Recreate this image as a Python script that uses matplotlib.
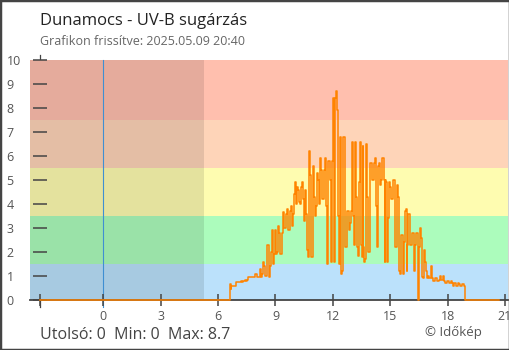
import matplotlib
matplotlib.use("Agg")
import matplotlib.pyplot as plt
from matplotlib.patches import Rectangle
import numpy as np

plt.rcParams['font.family'] = ['Open Sans', 'DejaVu Sans']

# time window in hours relative to midnight (20:40 previous day -> 20:40)
start_hour = -3.333
end_hour = 20.667
day_start = 6.6     # first non-zero reading
bin_step = 0.1      # hours per bin below
night_until = 5.26  # shaded part on the left

# UV-B readings, per 0.1 h bin: upper and lower level
uv_hi = [0.67, 0.6, 0.6, 0.74, 0.74, 0.74, 0.8, 0.8, 0.85, 0.95,
         0.95, 0.95, 0.95, 1.09, 1.09, 0.95, 1.3, 1.6, 1.4, 2.3,
         2.3, 2.0, 2.9, 2.6, 2.9, 3.1, 2.8, 2.8, 3.65, 3.6,
         3.8, 3.7, 3.9, 4.4, 4.9, 4.7, 4.6, 4.7, 4.9, 4.6,
         3.6, 6.2, 5.2, 5.6, 4.3, 5.3, 5.0, 5.9, 5.4, 5.4,
         5.9, 5.8, 5.8, 5.8, 8.4, 8.7, 7.9, 6.8, 1.4, 6.8,
         6.8, 3.7, 3.7, 3.7, 6.6, 6.6, 4.3, 4.9, 6.6, 6.4,
         2.2, 6.5, 4.3, 5.7, 5.7, 5.7, 5.9, 5.6, 5.7, 5.9,
         5.9, 5.0, 4.9, 4.9, 4.7, 5.0, 5.0, 4.8, 4.3, 2.7,
         2.7, 3.7, 3.8, 3.6, 3.6, 2.8, 2.8, 2.8, 2.8, 3.0,
         2.6, 2.1, 1.6, 1.0, 1.0, 1.4, 0.9, 0.9, 0.9, 0.85,
         1.0, 1.0, 0.8, 0.8, 0.8, 0.75, 0.8, 0.7, 0.7, 0.7,
         0.65, 0.65, 0.65]
uv_lo = [0.47, 0.6, 0.6, 0.6, 0.74, 0.74, 0.74, 0.8, 0.8, 0.85,
         0.95, 0.95, 0.95, 0.95, 0.95, 0.95, 0.95, 1.1, 1.0, 1.0,
         0.95, 1.4, 1.5, 1.9, 1.9, 2.0, 1.9, 1.9, 3.0, 3.0,
         2.9, 2.9, 3.1, 3.6, 4.0, 4.0, 4.1, 4.0, 4.2, 3.3,
         2.1, 1.8, 1.8, 1.8, 3.5, 3.9, 4.5, 4.0, 4.2, 4.2,
         3.9, 1.5, 5.0, 1.6, 1.6, 8.4, 3.5, 1.5, 1.1, 1.2,
         2.2, 2.2, 2.9, 3.2, 3.5, 2.3, 2.2, 1.85, 2.3, 1.8,
         1.6, 1.7, 2.0, 2.0, 5.0, 5.0, 3.9, 2.2, 4.8, 5.0,
         5.0, 1.6, 1.6, 3.4, 4.2, 4.2, 2.2, 2.2, 1.2, 1.1,
         1.1, 2.4, 1.2, 2.3, 2.3, 2.3, 1.2, 2.3, 0.0, 2.2,
         0.95, 0.9, 1.2, 0.9, 0.9, 0.9, 0.8, 0.8, 0.8, 0.8,
         0.85, 0.85, 0.7, 0.7, 0.7, 0.7, 0.7, 0.6, 0.6, 0.6,
         0.6, 0.6, 0.6]

# UV index bands
band_edges = [0, 1.5, 3.5, 5.5, 7.5, 10]
band_colors = ['#bbe1fb', '#acfcbc', '#fefcb0', '#fed4b8', '#ffbfae']

x_ticks = [start_hour, 0, 3, 6, 9, 12, 15, 18, 21]
x_labels = ['', '0', '3', '6', '9', '12', '15', '18', '21']
y_ticks = list(range(11))

# build the step series
t = [start_hour]
v = [0]
for i, (hi, lo) in enumerate(zip(uv_hi, uv_lo)):
    t0 = day_start + i * bin_step
    if i % 2 == 0:
        t += [t0, t0 + bin_step / 2]
        v += [hi, lo]
    else:
        t += [t0, t0 + bin_step / 2]
        v += [lo, hi]
day_end = day_start + bin_step * len(uv_hi)
t += [day_end, end_hour]
v += [0, 0]

W, H = 510, 350
fig = plt.figure(figsize=(W / 100, H / 100), dpi=100)
ax = fig.add_axes([30 / W, 50 / H, 478 / W, 240 / H])

x_left = (30 - 103.3) / 19.13
x_right = (508 - 103.3) / 19.13
ax.set_xlim(x_left, x_right)
ax.set_ylim(0, 10)

for lo_e, hi_e, c in zip(band_edges[:-1], band_edges[1:], band_colors):
    ax.axhspan(lo_e, hi_e, color=c, lw=0, zorder=0.8)
ax.axvspan(x_left, night_until, color='black', alpha=0.1, lw=0, zorder=0.9)

# y axis line mostly hidden behind the bands
ax.axvline(start_hour, ymin=-0.03, ymax=1.02, color='#444444', lw=0.9,
           clip_on=False, zorder=0.5)
# midnight marker
ax.axvline(0, ymin=-0.03, ymax=1, color='#3f8fd2', lw=0.8, clip_on=False, zorder=1.2)

ax.step(t, v, where='post', color='#ff8300', lw=1.1, clip_on=False, zorder=3)

for s in ['top', 'right', 'left']:
    ax.spines[s].set_visible(False)
ax.spines['bottom'].set_color('#444444')
ax.spines['bottom'].set_linewidth(1.3)
ax.spines['left'].set_position(('data', start_hour))

ax.set_xticks(x_ticks, x_labels)
ax.set_yticks(y_ticks, [str(y) for y in y_ticks])
ax.tick_params(axis='x', direction='inout', length=9, width=1.1, color='#444444',
               labelsize=9, labelcolor='#555555', pad=3)
ax.tick_params(axis='y', direction='inout', length=9.4, width=1.1, color='#444444',
               labelsize=9, labelcolor='#555555', pad=19)
for lab in ax.get_yticklabels():
    lab.set_horizontalalignment('left')

fig.text(40 / W, 1 - 25 / H, 'Dunamocs - UV-B sugárzás', fontsize=12,
         color='#222222', va='baseline')
fig.text(40 / W, 1 - 45 / H, 'Grafikon frissítve: 2025.05.09 20:40', fontsize=9,
         color='#666666', va='baseline')
fig.text(40 / W, 1 - 339 / H, 'Utolsó: 0  Min: 0  Max: 8.7', fontsize=11.5,
         color='#444444', va='baseline')
fig.text(425 / W, 1 - 336 / H, '© Időkép', fontsize=9.5,
         color='#555555', va='baseline')

fig.patches.append(Rectangle((0, 0), 1, 1, transform=fig.transFigure, fill=False,
                             ec='#444444', lw=2.5, zorder=10))

fig.savefig('out.png', dpi=100)
